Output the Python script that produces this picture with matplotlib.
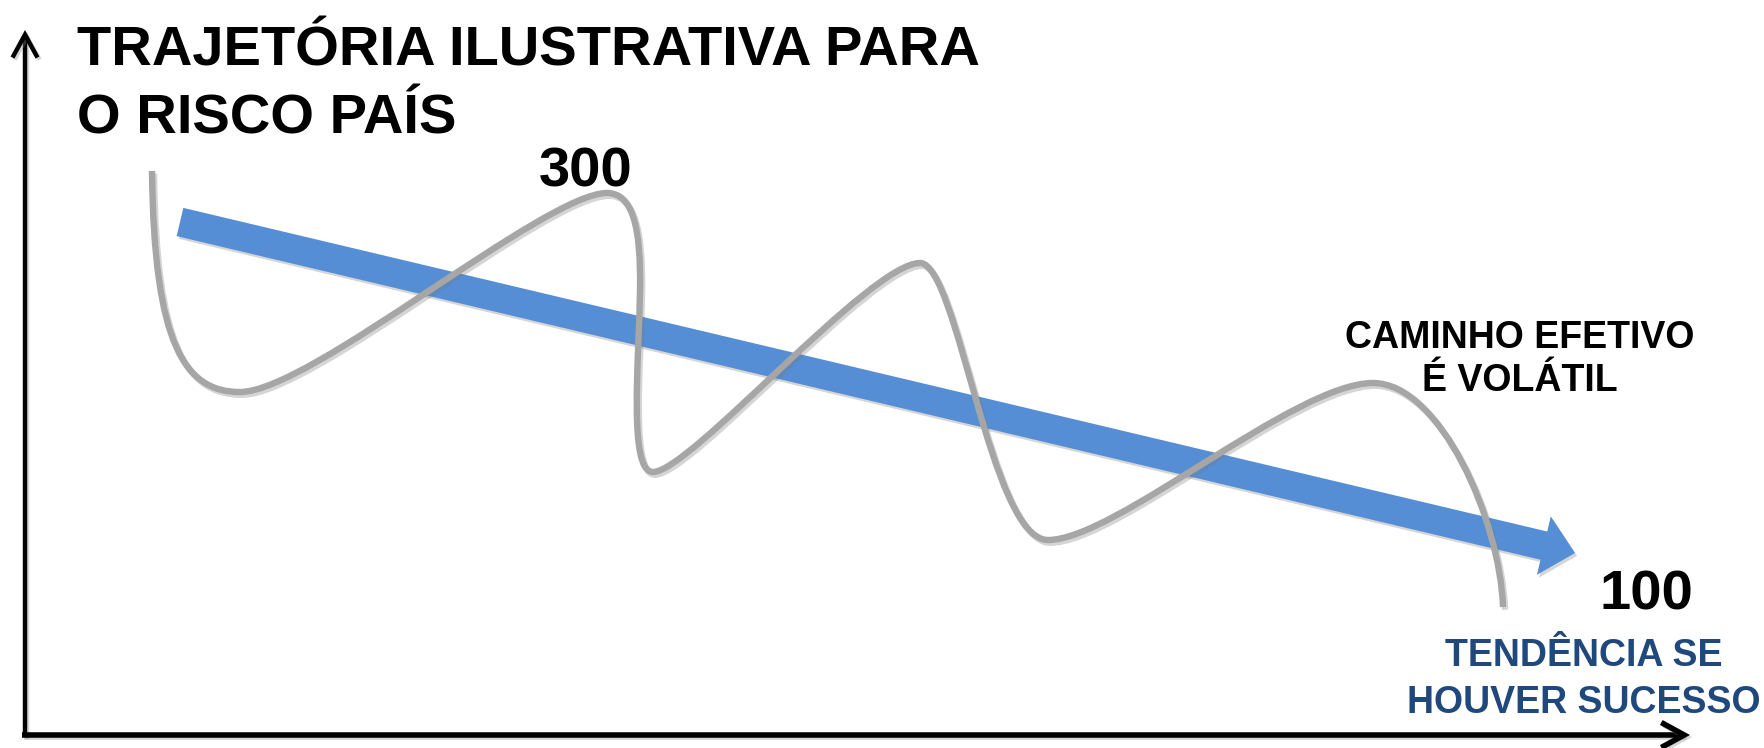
import matplotlib
matplotlib.use("Agg")
import matplotlib.pyplot as plt
import matplotlib.patheffects as pe
from matplotlib.path import Path
from matplotlib.patches import PathPatch, FancyArrow, FancyArrowPatch

W, H = 1765, 748

# gray "actual path": cubic bezier control points, drawing coords (px, y down)
PATH_X = [152,
          154, 185, 240,
          310, 545, 607,
          633, 641, 640,
          639, 628, 653,
          690, 870, 920,
          958, 990, 1048,
          1115, 1295, 1373,
          1440, 1500, 1503]
PATH_Y = [171,
          345, 392, 392,
          392, 193, 193,
          193, 228, 290,
          360, 472, 472,
          472, 263, 263,
          263, 540, 540,
          540, 383, 383,
          383, 520, 607]

# blue trend arrow
TREND_START = (180, 222)
TREND_END = (1575, 553)

TITLE_LINES = ["TRAJETÓRIA ILUSTRATIVA PARA", "O RISCO PAÍS"]
LEVEL_HIGH = "300"
LEVEL_LOW = "100"
PATH_LABEL = ["CAMINHO EFETIVO", "É VOLÁTIL"]
TREND_LABEL = ["TENDÊNCIA SE", "HOUVER SUCESSO"]

GRAY = "#a6a6a6"
BLUE = "#558ed5"
DARK_BLUE = "#1f497d"
FONT = "Liberation Sans"


def main():
    fig = plt.figure(figsize=(W / 100, H / 100), dpi=100)
    ax = fig.add_axes([0, 0, 1, 1])
    ax.set_xlim(0, W)
    ax.set_ylim(H, 0)
    ax.axis("off")

    shadow = [pe.SimpleLineShadow(offset=(1.5, -1.5), shadow_color="#888888", alpha=0.35), pe.Normal()]

    # axes arrows
    for a, b, lw in [((25, 737), (25, 30), 3.2), ((22, 735), (1690, 735), 4.0)]:
        arr = FancyArrowPatch(a, b, arrowstyle="->,head_length=0.55,head_width=0.3",
                              mutation_scale=30, lw=lw, color="black",
                              shrinkA=0, shrinkB=0, capstyle="butt", joinstyle="miter")
        arr.set_path_effects(shadow)
        ax.add_patch(arr)

    # trend arrow
    x0, y0 = TREND_START
    x1, y1 = TREND_END
    trend = FancyArrow(x0, y0, x1 - x0, y1 - y0, width=29, head_width=60, head_length=32,
                       length_includes_head=True, color=BLUE, lw=0, zorder=2)
    trend.set_path_effects([pe.SimplePatchShadow(offset=(1.5, -2), shadow_rgbFace="#777777", alpha=0.3),
                            pe.Normal()])
    ax.add_patch(trend)

    # volatile path
    verts = list(zip(PATH_X, PATH_Y))
    codes = [Path.MOVETO] + [Path.CURVE4] * (len(verts) - 1)
    curve = PathPatch(Path(verts, codes), facecolor="none", edgecolor=GRAY, lw=4.6,
                      capstyle="butt", zorder=3)
    curve.set_path_effects([pe.SimpleLineShadow(offset=(1.5, -2), shadow_color="#777777", alpha=0.3),
                            pe.Normal()])
    ax.add_patch(curve)

    # texts
    ax.text(77, 65, TITLE_LINES[0], fontsize=40.4, fontweight="bold", family=FONT, va="baseline")
    ax.text(77, 133, TITLE_LINES[1], fontsize=40.4, fontweight="bold", family=FONT, va="baseline")
    ax.text(586, 186, LEVEL_HIGH, fontsize=40.5, fontweight="bold", family=FONT, ha="center", va="baseline")
    ax.text(1646, 609, LEVEL_LOW, fontsize=40.5, fontweight="bold", family=FONT, ha="center", va="baseline")
    for txt, yb in zip(PATH_LABEL, [348, 391]):
        ax.text(1520, yb, txt, fontsize=27, fontweight="bold", family=FONT, ha="center", va="baseline")
    for txt, yb in zip(TREND_LABEL, [666, 713]):
        ax.text(1584, yb, txt, fontsize=27, fontweight="bold", family=FONT, ha="center",
                va="baseline", color=DARK_BLUE)

    fig.savefig("out.png", dpi=100, facecolor="white")


if __name__ == "__main__":
    main()
